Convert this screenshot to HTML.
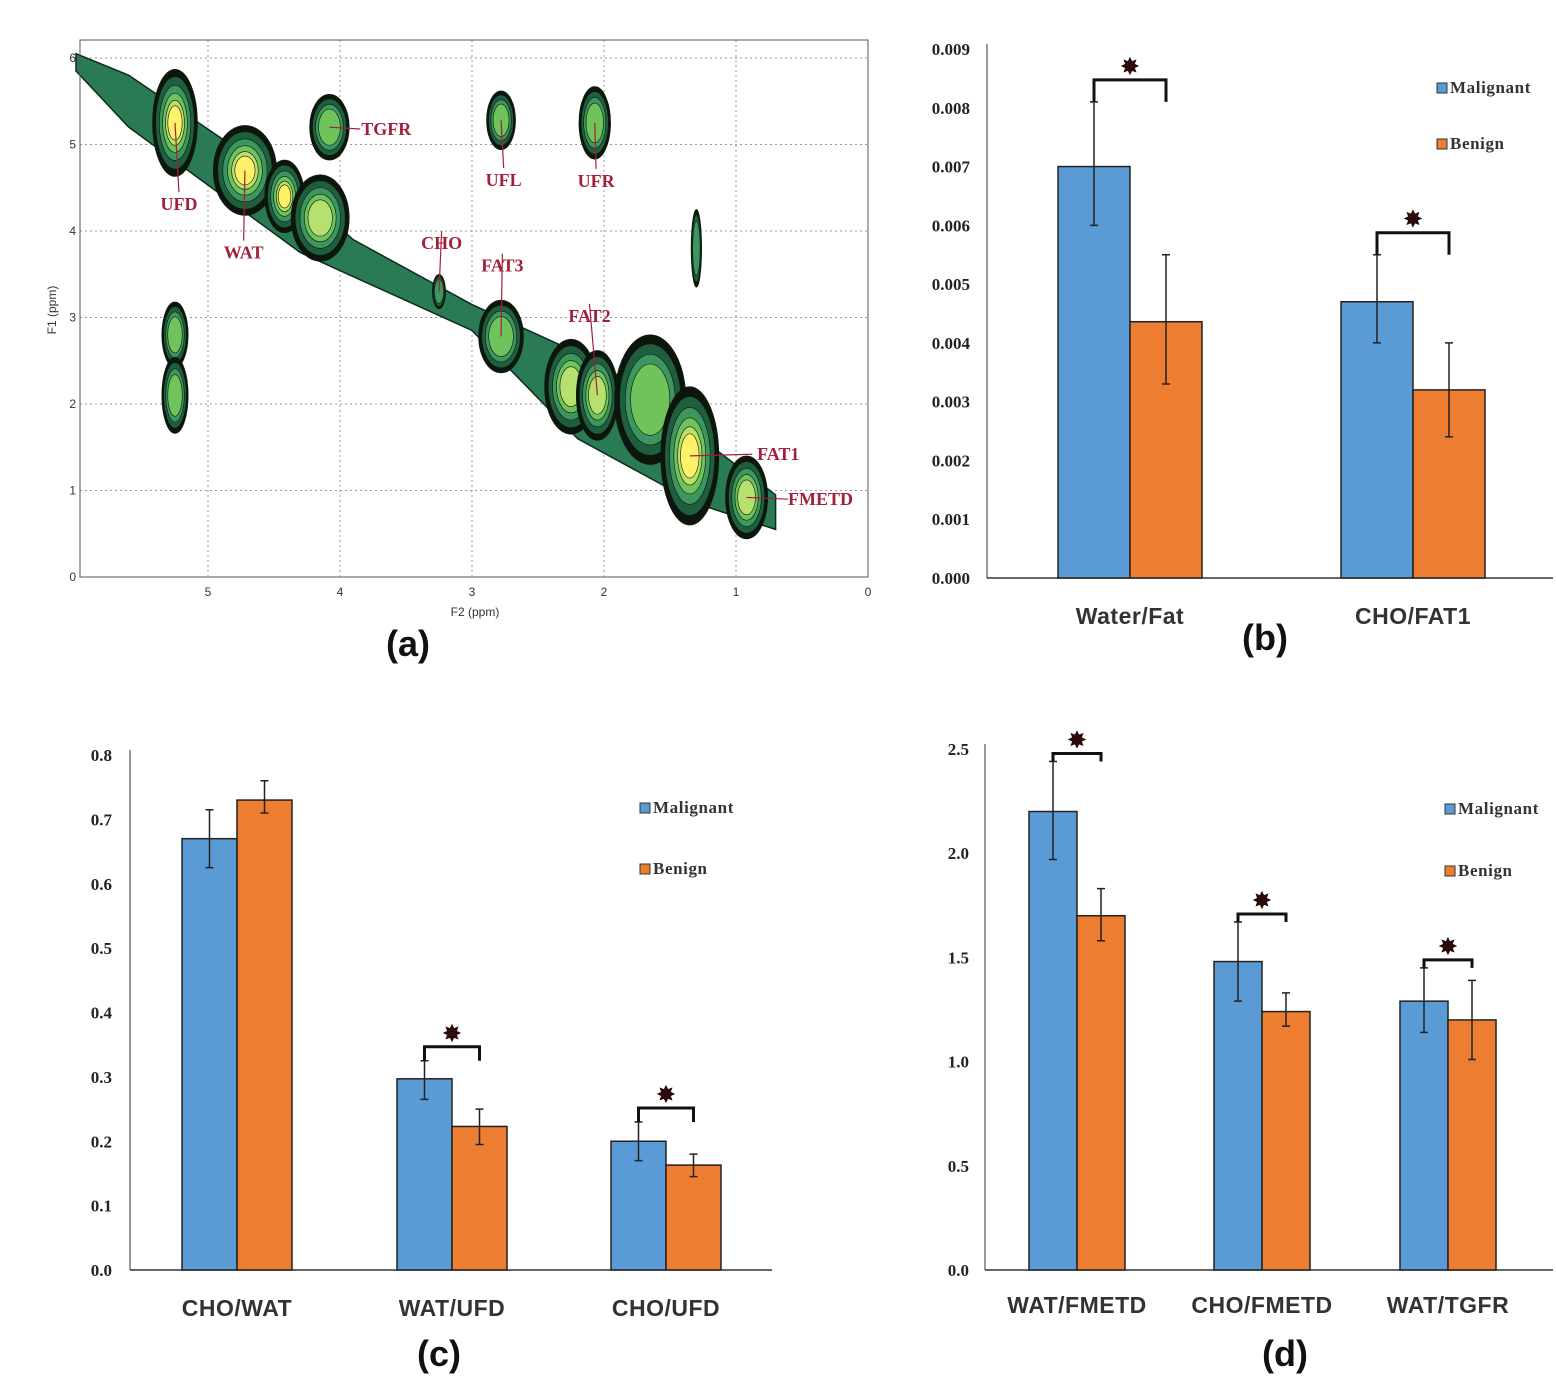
<!DOCTYPE html>
<html><head><meta charset="utf-8">
<style>
html,body{margin:0;padding:0;background:#fff;}
svg{display:block;}
.tk{font-family:"Liberation Serif",serif;font-weight:bold;font-size:17px;fill:#222;}
.cat{font-family:"Liberation Sans",sans-serif;font-weight:bold;font-size:23px;fill:#333;letter-spacing:0.5px;}
.pl{font-family:"Liberation Sans",sans-serif;font-weight:bold;font-size:36px;fill:#111;}
.lg{font-family:"Liberation Serif",serif;font-weight:bold;font-size:17px;fill:#333;letter-spacing:0.6px;}
.nm{font-family:"Liberation Serif",serif;font-weight:bold;font-size:18px;fill:#a3203a;}
.ax{font-family:"Liberation Sans",sans-serif;font-size:12px;fill:#333;}
</style></head>
<body>
<svg id="s" width="1556" height="1392" viewBox="0 0 1556 1392" xmlns="http://www.w3.org/2000/svg"></svg>
<script>
// ---- Panel (a) data ----
const aPeakX=[5.25,4.72,4.42,4.15,4.08,2.78,2.07,1.3,3.25,2.78,2.25,2.05,1.65,1.35,0.92,5.25,5.25];
const aPeakY=[5.25,4.7,4.4,4.15,5.2,5.28,5.25,3.8,3.3,2.78,2.2,2.1,2.05,1.4,0.92,2.8,2.1];
const aPeakRX=[0.17,0.24,0.15,0.22,0.15,0.11,0.12,0.04,0.05,0.17,0.2,0.16,0.27,0.22,0.16,0.1,0.1];
const aPeakRY=[0.62,0.52,0.42,0.5,0.38,0.34,0.42,0.45,0.2,0.42,0.55,0.52,0.75,0.8,0.48,0.38,0.44];
const aPeakLevel=[5,5,5,4,3,3,3,2,2,3,4,4,3,5,4,3,3];
const aLabels=["UFD","WAT","TGFR","UFL","UFR","CHO","FAT3","FAT2","FAT1","FMETD"];
const aLabelX=[5.22,4.73,3.65,2.76,2.06,3.23,2.77,2.11,0.68,0.36];
const aLabelY=[4.24,3.68,5.11,4.52,4.51,3.79,3.53,2.95,1.35,0.83];
const aLabelPeak=[0,1,4,5,6,8,9,11,13,14];
// ---- Panel (b) data ----
const bCats=["Water/Fat","CHO/FAT1"];
const bMal=[0.0070,0.0047];
const bBen=[0.00436,0.0032];
const bMalLo=[0.0060,0.0040],bMalHi=[0.0081,0.0055];
const bBenLo=[0.0033,0.0024],bBenHi=[0.0055,0.0040];
const bTicks=["0.000","0.001","0.002","0.003","0.004","0.005","0.006","0.007","0.008","0.009"];
// ---- Panel (c) data ----
const cCats=["CHO/WAT","WAT/UFD","CHO/UFD"];
const cMal=[0.67,0.297,0.20];
const cBen=[0.73,0.223,0.163];
const cMalLo=[0.625,0.265,0.17],cMalHi=[0.715,0.325,0.23];
const cBenLo=[0.71,0.195,0.145],cBenHi=[0.76,0.25,0.18];
const cTicks=["0.0","0.1","0.2","0.3","0.4","0.5","0.6","0.7","0.8"];
const cSig=[false,true,true];
// ---- Panel (d) data ----
const dCats=["WAT/FMETD","CHO/FMETD","WAT/TGFR"];
const dMal=[2.2,1.48,1.29];
const dBen=[1.70,1.24,1.20];
const dMalLo=[1.97,1.29,1.14],dMalHi=[2.44,1.67,1.45];
const dBenLo=[1.58,1.17,1.01],dBenHi=[1.83,1.33,1.39];
const dTicks=["0.0","0.5","1.0","1.5","2.0","2.5"];

const S=document.getElementById('s');
const NS="http://www.w3.org/2000/svg";
function mk(tag,at,parent){const e=document.createElementNS(NS,tag);for(const k in at)e.setAttribute(k,at[k]);(parent||S).appendChild(e);return e;}
function txt(str,x,y,cls,anchor,parent){const t=mk('text',{x:x,y:y,class:cls,'text-anchor':anchor||'start'},parent);t.textContent=str;return t;}

// ===== Panel (a) =====
const ga=mk('g',{});


const ax=v=>868-(v)*132, ay=v=>577-(v)*86.5;
for(let i=1;i<=5;i++){
  const gl=mk('line',{x1:ax(i),x2:ax(i),y1:40,y2:577,stroke:'#999','stroke-dasharray':'2,3'},ga);
  
  
  const tl=txt(String(i),ax(i),596,'ax','middle',ga);
  
  
}
txt('0',868,596,'ax','middle',ga);
for(let i=0;i<=6;i++){
  if(i>0){const gl=mk('line',{x1:80,x2:868,y1:ay(i),y2:ay(i),stroke:'#999','stroke-dasharray':'2,3'},ga);
  
  }
  const tl=txt(String(i),76,ay(i)+4,'ax','end',ga);
  
  
}
const band=mk('polygon',{points:[[6,6.05],[5.6,5.8],[4.3,4.45],[3.9,3.9],[3.0,3.15],[2.0,2.45],[0.7,0.95],[0.7,0.55],[1.3,0.85],[2.2,1.6],[3.0,2.85],[4.3,3.75],[5.6,5.2],[6,5.85]].map(p=>ax(p[0])+','+ay(p[1])).join(' '),fill:'#2a7a55',stroke:'#0d2a1a','stroke-width':1.5},ga);


const cols=['#0d160d','#1f5e3e','#3d9660','#6fc35a','#b8e070','#fff268'];
const scl=[1,0.86,0.7,0.55,0.42,0.32];
for(let i=0;i<aPeakX.length;i++){
  const g=mk('g',{},ga);
  
  
  for(let l=0;l<=aPeakLevel[i];l++){
    mk('ellipse',{cx:ax(aPeakX[i]),cy:ay(aPeakY[i]),rx:aPeakRX[i]*132*scl[l],ry:aPeakRY[i]*86.5*scl[l],fill:cols[l],stroke:'#0a1a0a','stroke-width':0.6},g);
  }
}
for(let i=0;i<aLabels.length;i++){
  const p=aLabelPeak[i];
  const lx=ax(aLabelX[i]),ly=ay(aLabelY[i]),px=ax(aPeakX[p]),py=ay(aPeakY[p]);
  let x2=lx,y2=ly-18;
  if(Math.abs(lx-px)>25){x2=lx<px?lx+24:lx-(aLabels[i].length*6.5);y2=ly-6;}
  const ld=mk('line',{x1:px,y1:py,x2:x2,y2:y2,stroke:'#a3203a','stroke-width':1.2},ga);
  
  
  const t=txt(aLabels[i],lx,ly,'nm','middle',ga);
  
  
}
mk('rect',{x:80,y:40,width:788,height:537,fill:'none',stroke:'#555'},ga);
const f1=txt('F1 (ppm)',0,0,'ax','middle',ga);
f1.setAttribute('transform','translate(56,310) rotate(-90)');


const f2=txt('F2 (ppm)',475,616,'ax','middle',ga);


const la=txt('(a)',408,656,'pl','middle');



function barChart(o){
  const g=mk('g',{});
  
  
  const y=v=>o.base-(v/o.max)*(o.base-o.top);
  mk('line',{x1:o.x0,x2:o.x0,y1:o.top-5,y2:o.base,stroke:'#777','stroke-width':1.5},g);
  mk('line',{x1:o.x0,x2:o.x1,y1:o.base,y2:o.base,stroke:'#333','stroke-width':1.5},g);
  o.ticks.forEach(t=>{const e=txt(t,o.x0-o.tkoff,y(parseFloat(t))+6,'tk','end',g);
    
    });
  o.cats.forEach((c,i)=>{
    const cx=o.c[i],w=o.w;
    const bm=mk('rect',{x:cx-w,y:y(o.mal[i]),width:w,height:o.base-y(o.mal[i]),fill:'#5b9bd5',stroke:'#222','stroke-width':1.5},g);
    
    
    const bb=mk('rect',{x:cx,y:y(o.ben[i]),width:w,height:o.base-y(o.ben[i]),fill:'#ed7d31',stroke:'#222','stroke-width':1.5},g);
    
    
    [[cx-w/2,o.mlo[i],o.mhi[i]],[cx+w/2,o.blo[i],o.bhi[i]]].forEach(a=>{
      const eb=mk('path',{d:`M${a[0]},${y(a[1])}V${y(a[2])}M${a[0]-4},${y(a[1])}h8M${a[0]-4},${y(a[2])}h8`,stroke:'#222','stroke-width':1.5,fill:'none'},g);
      
      
    });
    const cl=txt(c,cx,o.catY,'cat','middle',g);
    
    
    if(o.sig[i]){
      const top=y(Math.max(o.mhi[i],o.bhi[i]))-o.gap;
      const by=Math.min(top,y(o.mhi[i])-o.gap);
      const br=mk('path',{d:`M${cx-w/2},${by+o.leg}V${by}H${cx+w/2}V${by+o.leg}`,stroke:'#111','stroke-width':3,fill:'none'},g);
      
      
      const st=txt('✸',cx,by-6,'tk','middle',g);
      st.setAttribute('style','font-size:22px;fill:#2a0a0a');
      
      
    }
  });
  [['Malignant','#5b9bd5',o.lg[1]],['Benign','#ed7d31',o.lg[2]]].forEach(l=>{
    mk('rect',{x:o.lg[0],y:l[2]-10,width:10,height:10,fill:l[1],stroke:'#333'},g);
    const e=txt(l[0],o.lg[0]+13,l[2],'lg','start',g);
    
    
  });
  const pl=txt(o.label,o.pl[0],o.pl[1],'pl','middle');
  
  
}
barChart({name:'chart-b',x0:987,x1:1553,top:49,base:578,max:0.009,ticks:bTicks,tkoff:17,cats:bCats,c:[1130,1413],w:72,
  mal:bMal,ben:bBen,mlo:bMalLo,mhi:bMalHi,blo:bBenLo,bhi:bBenHi,sig:[true,true],gap:22,leg:22,catY:624,lg:[1437,93,149],label:'(b)',pl:[1265,650]});
barChart({name:'chart-c',x0:130,x1:772,top:755,base:1270,max:0.8,ticks:cTicks,cats:cCats,c:[237,452,666],w:55,
  mal:cMal,ben:cBen,mlo:cMalLo,mhi:cMalHi,blo:cBenLo,bhi:cBenHi,sig:cSig,gap:14,leg:14,catY:1316,tkoff:18,lg:[640,813,874],label:'(c)',pl:[439,1366]});
barChart({name:'chart-d',x0:985,x1:1553,top:749,base:1270,max:2.5,ticks:dTicks,tkoff:16,cats:dCats,c:[1077,1262,1448],w:48,
  mal:dMal,ben:dBen,mlo:dMalLo,mhi:dMalHi,blo:dBenLo,bhi:dBenHi,sig:[true,true,true],gap:8,leg:8,catY:1313,lg:[1445,814,876],label:'(d)',pl:[1285,1366]});
</script>
</body></html>
